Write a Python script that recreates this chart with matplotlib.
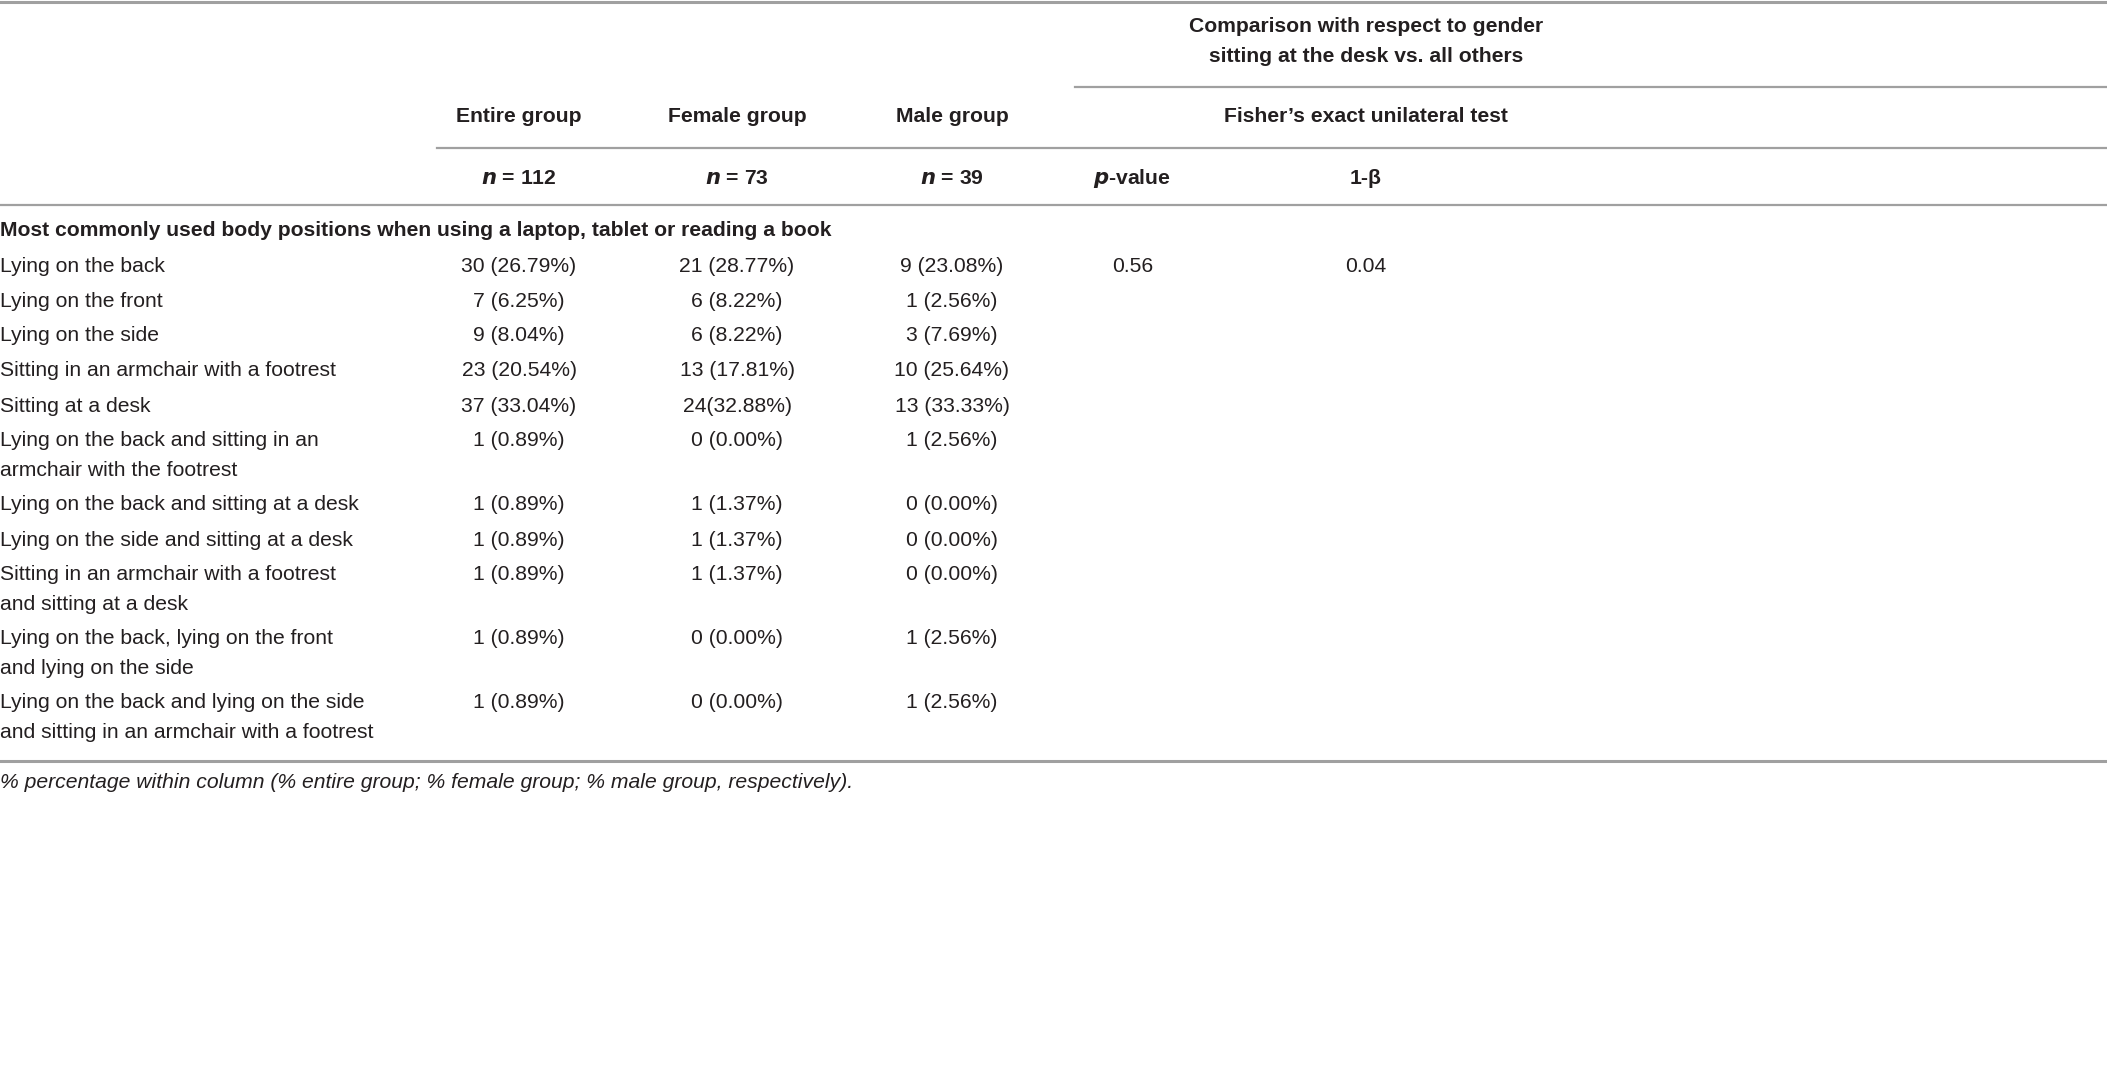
import matplotlib; matplotlib.use("Agg"); import matplotlib.pyplot as plt
from matplotlib.lines import Line2D

W, H = 2107, 1067
plt.rcParams['font.family'] = ['Liberation Sans', 'DejaVu Sans']

section = "Most commonly used body positions when using a laptop, tablet or reading a book"
groups = ["Entire group", "Female group", "Male group"]
group_n = ["112", "73", "39"]
labels = ["Lying on the back", "Lying on the front", "Lying on the side",
          "Sitting in an armchair with a footrest", "Sitting at a desk",
          "Lying on the back and sitting in an\narmchair with the footrest",
          "Lying on the back and sitting at a desk", "Lying on the side and sitting at a desk",
          "Sitting in an armchair with a footrest\nand sitting at a desk",
          "Lying on the back, lying on the front\nand lying on the side",
          "Lying on the back and lying on the side\nand sitting in an armchair with a footrest"]
entire = ["30 (26.79%)", "7 (6.25%)", "9 (8.04%)", "23 (20.54%)", "37 (33.04%)", "1 (0.89%)",
          "1 (0.89%)", "1 (0.89%)", "1 (0.89%)", "1 (0.89%)", "1 (0.89%)"]
female = ["21 (28.77%)", "6 (8.22%)", "6 (8.22%)", "13 (17.81%)", "24(32.88%)", "0 (0.00%)",
          "1 (1.37%)", "1 (1.37%)", "1 (1.37%)", "0 (0.00%)", "0 (0.00%)"]
male = ["9 (23.08%)", "1 (2.56%)", "3 (7.69%)", "10 (25.64%)", "13 (33.33%)", "1 (2.56%)",
        "0 (0.00%)", "0 (0.00%)", "0 (0.00%)", "1 (2.56%)", "1 (2.56%)"]
p_value = "0.56"
power = "0.04"
footnote = "% percentage within column (% entire group; % female group; % male group, respectively)."

fig = plt.figure(figsize=(W / 100, H / 100), dpi=100)
TXT = "#231f20"; LN = "#a0a0a0"
FS = 15.2

def tx(x, y, s, ha="left", bold=False, italic=False, size=FS):
    fig.text(x / W, 1 - y / H, s, ha=ha, va="center", fontsize=size, color=TXT,
             fontweight="bold" if bold else "normal", fontstyle="italic" if italic else "normal")

def hline(x0, x1, y, lw=1.6):
    fig.add_artist(Line2D([x0 / W, x1 / W], [1 - y / H, 1 - y / H], color=LN, lw=lw,
                          transform=fig.transFigure))

col_x = [519, 737, 952]

# header
hline(0, W, 2, 2.2)
tx(1366, 27, "Comparison with respect to gender", ha="center", bold=True)
tx(1366, 57, "sitting at the desk vs. all others", ha="center", bold=True)
hline(1075, W, 87)
for x, g in zip(col_x, groups):
    tx(x, 117, g, ha="center", bold=True)
tx(1366, 117, "Fisher\u2019s exact unilateral test", ha="center", bold=True)
hline(437, W, 148)
for x, n in zip(col_x, group_n):
    tx(x, 178, r"$\bfit{n}$" + " = " + n, ha="center", bold=True)
tx(1093, 178, r"$\bfit{p}$" + "-value", bold=True)
tx(1366, 178, "1-\u03b2", ha="center", bold=True)
hline(0, W, 205)

tx(0, 231, section, bold=True)

y = 266
for i, lab in enumerate(labels):
    lines = lab.split("\n")
    for k, ln in enumerate(lines):
        tx(0, y + 29 * k, ln)
    tx(col_x[0], y, entire[i], ha="center")
    tx(col_x[1], y, female[i], ha="center")
    tx(col_x[2], y, male[i], ha="center")
    if i == 0:
        tx(1112, y, p_value)
        tx(1366, y, power, ha="center")
    y += 35 + 29 * (len(lines) - 1)

hline(0, W, 761, 2.2)
tx(0, 782, footnote, italic=True)

fig.savefig("out.png", dpi=100)
